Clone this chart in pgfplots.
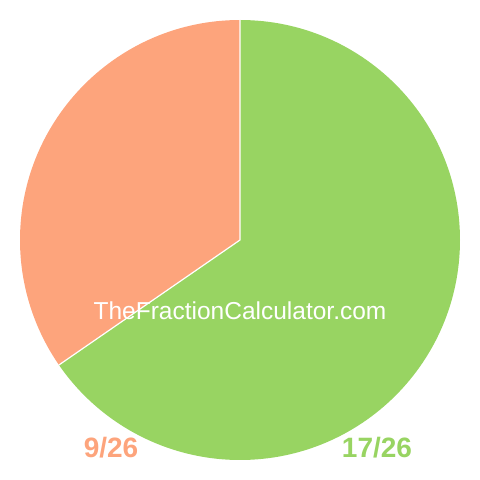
\documentclass[border=0pt]{standalone}
\usepackage{pgfplots}
\pgfplotsset{compat=1.18}
\usepackage{fontspec}
\setmainfont{Liberation Sans}
\definecolor{sliceorange}{HTML}{FDA47C}
\definecolor{slicegreen}{HTML}{98D462}
\begin{document}
\begin{tikzpicture}
\begin{axis}[
  width=480pt, height=480pt, scale only axis,
  hide axis, clip=false,
  xmin=-240, xmax=240, ymin=-240, ymax=240,
]
% keep the full square as the page
\path (axis cs:-240,-240) rectangle (axis cs:240,240);
% fraction 9/26 and 17/26
\def\partA{9}
\def\partB{17}
\pgfmathsetmacro{\angB}{90-360*\partB/(\partA+\partB)}
\fill[slicegreen] (axis cs:0,0) -- (axis cs:0,220)
  arc[start angle=90, end angle=\angB, radius=220] -- cycle;
\fill[sliceorange] (axis cs:0,0) -- (axis cs:0,220)
  arc[start angle=90, end angle=\angB+360, radius=220] -- cycle;
\draw[white, line width=1.2pt] (axis cs:0,220) -- (axis cs:0,0) -- ({220*cos(\angB)},{220*sin(\angB)});
\node[anchor=base, text=white, font=\fontsize{24.5}{24.5}\selectfont]
  at (axis cs:0,-80) {TheFractionCalculator.com};
\node[anchor=base, text=sliceorange, font=\bfseries\fontsize{28}{28}\selectfont]
  at (axis cs:-129,-218) {9/26};
\node[anchor=base, text=slicegreen, font=\bfseries\fontsize{28}{28}\selectfont]
  at (axis cs:137,-218) {17/26};
\end{axis}
\end{tikzpicture}
\end{document}
